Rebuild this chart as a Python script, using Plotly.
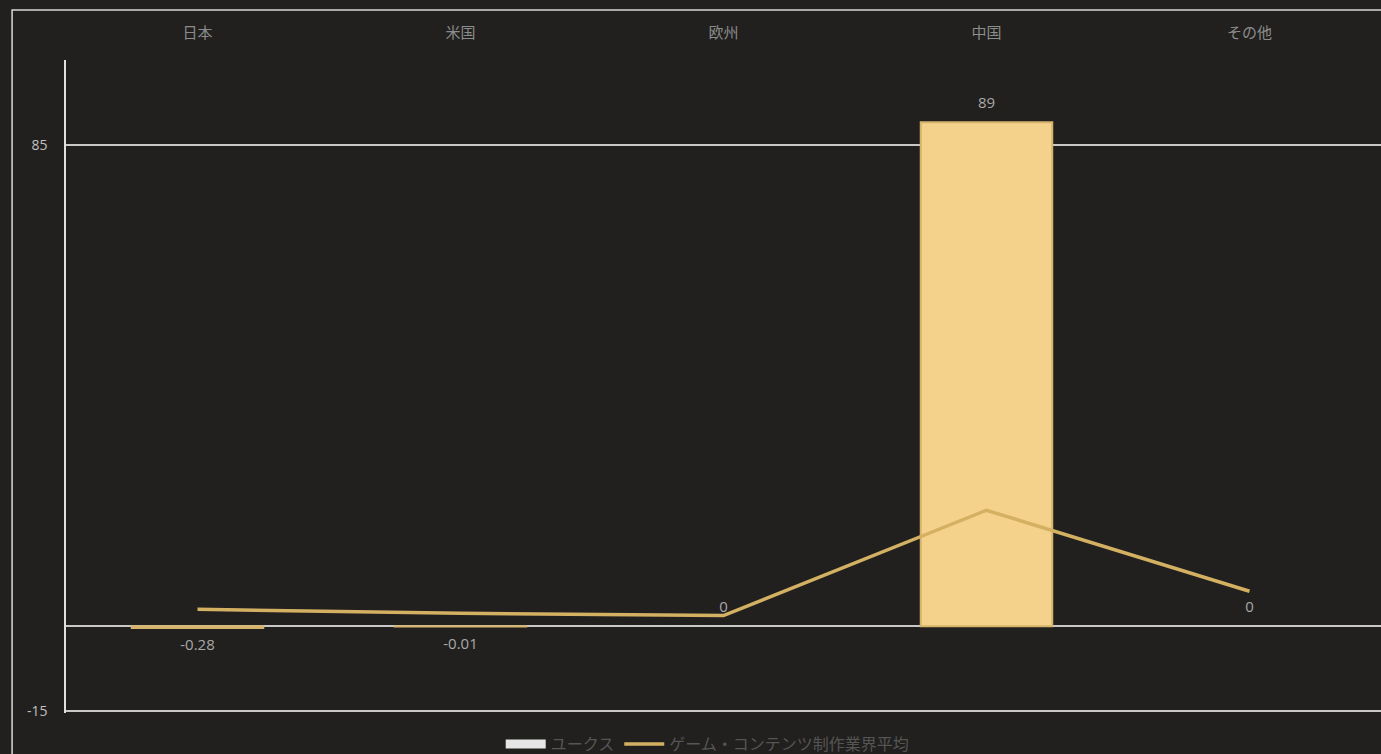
import plotly.graph_objects as go

categories = ["日本", "米国", "欧州", "中国", "その他"]
yukes_values = [-0.28, -0.01, 0, 89, 0]
yukes_labels = ["-0.28", "-0.01", "0", "89", "0"]
industry_avg = [3.0, 2.3, 1.9, 20.5, 6.2]

BG = "#21201e"
GOLD_FILL = "#f5d28b"
GOLD_EDGE = "#d6b46c"
LINE_GOLD = "#d4b062"
CJK = "Noto Sans CJK JP, Noto Sans, sans-serif"

fig = go.Figure()

# Bars (ユークス)
fig.add_trace(go.Bar(
    x=categories, y=yukes_values, name="ユークス",
    marker=dict(color=GOLD_FILL,
                line=dict(color=GOLD_EDGE, width=[0 if v == 0 else 2 for v in yukes_values])),
    showlegend=False, hoverinfo="x+y",
))
# Legend entry for bars (wide light swatch as in the reference)
fig.add_trace(go.Scatter(
    x=[categories[0]], y=[None], mode="lines", name="ユークス",
    line=dict(color="#e6e6e6", width=9), showlegend=True, hoverinfo="skip",
))
# Line (industry average)
fig.add_trace(go.Scatter(
    x=categories, y=industry_avg, mode="lines",
    name="ゲーム・コンテンツ制作業界平均",
    line=dict(color=LINE_GOLD, width=3.5),
))
# Data labels for bars
fig.add_trace(go.Scatter(
    x=categories, y=yukes_values, mode="markers+text",
    text=yukes_labels,
    textposition=["bottom center" if v < 0 else "top center" for v in yukes_values],
    marker=dict(size=16, opacity=0),
    textfont=dict(color="#a8a8a8", size=15, family="Open Sans, sans-serif"),
    showlegend=False, hoverinfo="skip",
))

fig.update_layout(
    width=1381, height=754,
    paper_bgcolor=BG, plot_bgcolor=BG,
    margin=dict(l=66, r=0, t=60, b=41, autoexpand=False),
    barmode="overlay",
    bargap=0.5,
    showlegend=True,
    legend=dict(orientation="h", x=0.488, xanchor="center", y=-0.0475, yanchor="middle",
                font=dict(color="#555555", size=16, family=CJK),
                bgcolor="rgba(0,0,0,0)", itemwidth=40, tracegroupgap=0),
    xaxis=dict(
        side="top", type="category", showgrid=False, showline=False, zeroline=False,
        ticks="", tickfont=dict(color="#8c8c8c", size=15, family=CJK),
        ticklabelstandoff=18,
    ),
    yaxis=dict(
        range=[-15.3, 100], tickmode="array", tickvals=[-15, 85], ticktext=["-15", "85"],
        showgrid=True, gridcolor="#c8c8c8", gridwidth=1.5,
        zeroline=True, zerolinecolor="#c8c8c8", zerolinewidth=1.5,
        showline=True, linecolor="#e0e0e0", linewidth=1.5,
        ticks="", tickfont=dict(color="#c0c0c0", size=14, family="Open Sans, sans-serif"),
        ticklabelstandoff=14,
    ),
    shapes=[dict(type="rect", xref="paper", yref="paper",
                 x0=-0.041, x1=1.02, y0=-0.12, y1=1.0766,
                 line=dict(color="#d8d8d8", width=1.5), layer="below")],
)

fig.write_html("out.html", config={"displayModeBar": False},
               post_script="document.body.style.margin='0';document.body.style.overflow='hidden';")
